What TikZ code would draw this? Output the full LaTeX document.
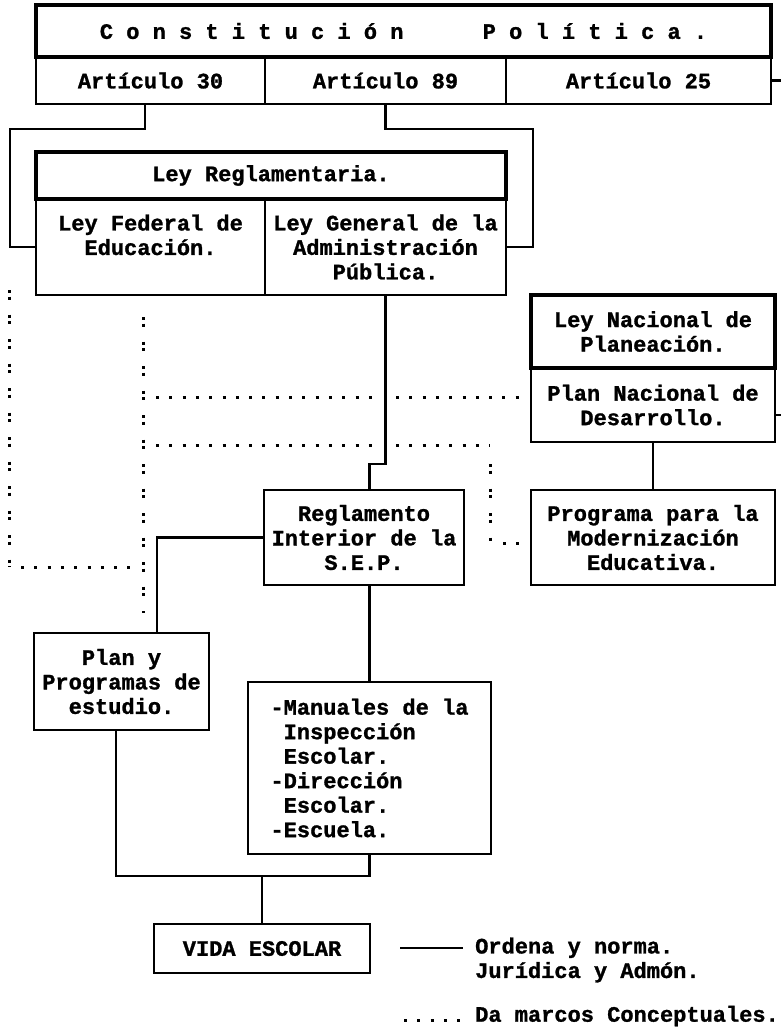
\documentclass[tikz,border=0pt]{standalone}
\usepackage{fontspec}
\setmonofont{Liberation Mono}[BoldFeatures={FakeBold=1.2}]
\frenchspacing

\begin{document}
\begin{tikzpicture}[x=1pt, y=-1pt,
    cell/.style={draw, line width=2.1pt, inner sep=0pt, align=center,
      font=\ttfamily\bfseries\fontsize{22}{24.5}\selectfont},
    head/.style={cell, line width=3.8pt},
    note/.style={inner sep=0pt, align=left, anchor=west,
      font=\ttfamily\bfseries\fontsize{22}{24.5}\selectfont},
    link/.style={line width=2.1pt},
    vdots/.style={line width=3pt, dash pattern=on 3pt off 3.6pt on 3pt off 14.9pt},
    hdots/.style={line width=3pt, dash pattern=on 3pt off 10.3pt}
  ]
  \useasboundingbox (0,0) rectangle (780,1035);

  % Constitucion y articulos
  \node[cell, minimum width=229, minimum height=47] (art30) at (150.5,80.5) {Artículo 30};
  \node[cell, minimum width=241, minimum height=47] (art89) at (385.5,80.5) {Artículo 89};
  \node[cell, minimum width=265, minimum height=47] (art25) at (638.5,80.5) {Artículo 25};
  \node[head, minimum width=735, minimum height=52] (const) at (403.5,31)
    {C~o~n~s~t~i~t~u~c~i~ó~n~~~~~~P~o~l~í~t~i~c~a~.};

  % Ley reglamentaria
  \node[cell, minimum width=229, minimum height=96] (leyfed) at (150.5,247)
    {Ley Federal de\\Educación.\\\mbox{}};
  \node[cell, minimum width=241, minimum height=96] (leygen) at (385.5,247)
    {Ley General de la\\Administración\\Pública.};
  \node[head, minimum width=470, minimum height=47] (leyreg) at (271,175.5) {Ley Reglamentaria.};

  % Planeacion
  \node[cell, minimum width=244, minimum height=74] (plannac) at (653,405)
    {Plan Nacional de\\Desarrollo.};
  \node[head, minimum width=244, minimum height=73] (leynac) at (653,331.5)
    {Ley Nacional de\\Planeación.};
  \node[cell, minimum width=244, minimum height=95] (prog) at (653,537.5)
    {Programa para la\\Modernización\\Educativa.};

  % SEP y escuela
  \node[cell, minimum width=200, minimum height=95] (regl) at (364,537.5)
    {Reglamento\\Interior de la\\S.E.P.};
  \node[cell, minimum width=175, minimum height=97] (plan) at (121.5,681.5)
    {Plan y\\Programas de\\estudio.};
  \node[cell, minimum width=243, minimum height=172, align=left] (manu) at (369.5,768)
    {-Manuales de la\\\hspace*{.6em}Inspección\\\hspace*{.6em}Escolar.\\-Dirección\\\hspace*{.6em}Escolar.\\-Escuela.};
  \node[cell, minimum width=216, minimum height=49] (vida) at (262,948.5) {VIDA ESCOLAR};

  % lineas solidas
  \draw[link] ([xshift=-5.5pt]art30.south) -- ++(0,24) -- ++(-135,0) |- (leyfed.west);
  \draw[link] (art89.south) -- ++(0,24) -| ([xshift=26pt]leygen.east) -- (leygen.east);
  \draw[link] (art25.east) -- ++(10,0);
  \draw[link] ([yshift=-10pt]plannac.east) -- ++(6,0);
  \draw[link] (leygen.south) -- ++(0,168) -| (manu.north |- regl.north);
  \draw[link] (plannac.south) -- (prog.north);
  \draw[link] (regl.west) -| ([xshift=35.5pt]plan.north);
  \draw[link] (manu.north |- regl.south) -- (manu.north);
  \coordinate (join) at (vida.north |- 0,876);
  \draw[link] ([xshift=-5.5pt]plan.south) |- (join) -| (manu.south);
  \draw[link] (join) -- (vida.north);

  % lineas punteadas
  \coordinate (dtop) at (9,290);
  \coordinate (dbot) at (9,567);
  \draw[vdots] (dtop) -- (dbot);
  \draw[hdots] ([xshift=12pt]dbot) -- ++(112,0);
  \draw[vdots] ([xshift=-7.5pt, yshift=-21pt]leyfed.south) -- ([xshift=21.5pt, yshift=19pt]plan.north);
  \draw[hdots] (156,397) -- (372,397);
  \draw[hdots] (396,397) -- ([xshift=-11pt, yshift=8pt]plannac.west);
  \draw[hdots] (156,445) -- (372,445);
  \draw[hdots] (396,445) -- (490,445);
  \draw[vdots] (490,464) -- (490,543);
  \draw[hdots] (503,543) -- ([xshift=-11pt, yshift=-5.5pt]prog.west);

  % leyenda
  \node[note] (ordena) at (475,960) {Ordena y norma.\\Jurídica y Admón.};
  \draw[link] ([xshift=-75pt, yshift=12pt]ordena.west) -- ++(63,0);
  \node[note] (marcos) at (475,1016) {Da marcos Conceptuales.};
  \draw[hdots] ([xshift=-71pt, yshift=-4pt]marcos.west) -- ++(56,0);

\end{tikzpicture}
\end{document}
